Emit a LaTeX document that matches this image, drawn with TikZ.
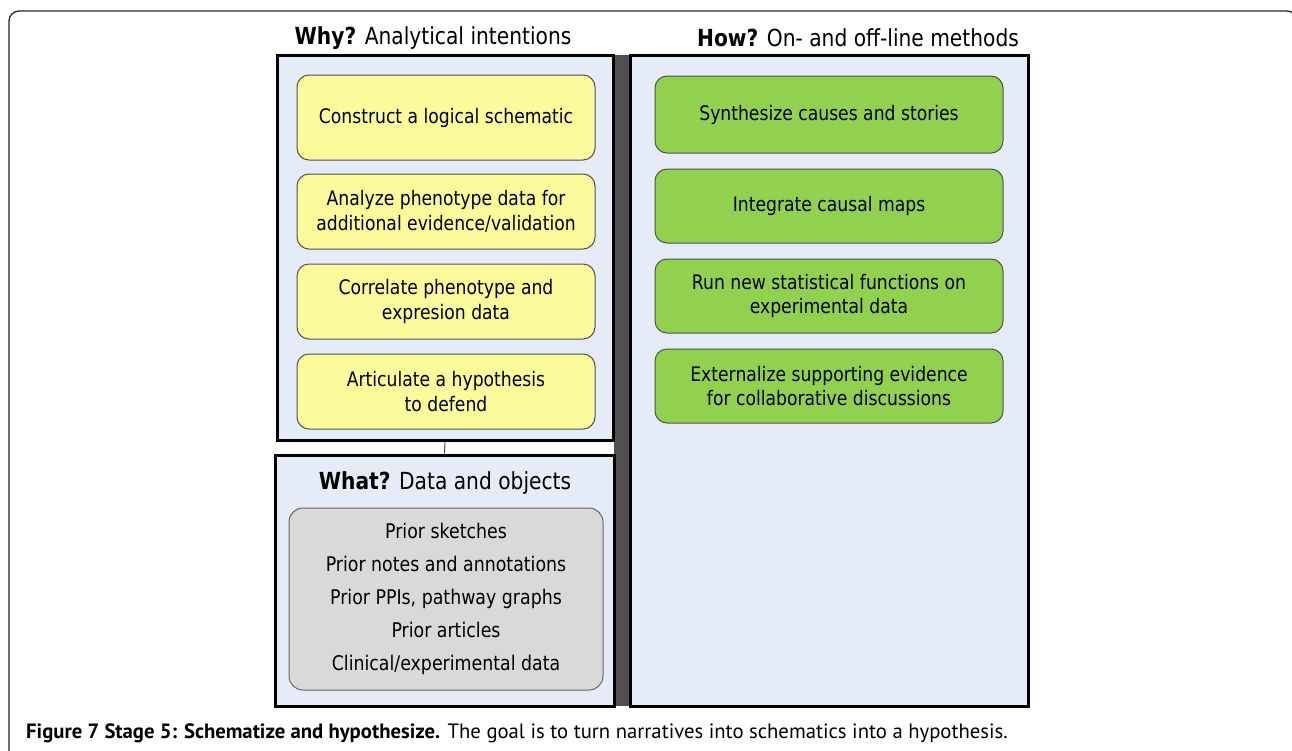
\documentclass[tikz,border=0pt]{standalone}
\usepackage{fontspec}
\setmainfont{DejaVu Sans}[FakeStretch=0.86]
\newfontfamily\capfont{PT Sans}
\usetikzlibrary{positioning}

\definecolor{panelblue}{HTML}{E6ECF7}
\definecolor{ideayellow}{HTML}{FCFB9C}
\definecolor{methgreen}{HTML}{92D050}
\definecolor{datagray}{HTML}{D9D9D9}
\definecolor{bargray}{HTML}{505050}
\definecolor{edgegray}{HTML}{505050}
\newcommand{\boxfont}{\fontsize{20}{24.5}\selectfont}

\begin{document}
\begin{tikzpicture}[x=1pt, y=-1pt,
    panel/.style={draw=black, line width=3pt, fill=panelblue, inner sep=0pt},
    headtext/.style={font=\fontsize{23.5}{28}\selectfont, inner sep=0pt},
    yellowbox/.style={draw=edgegray, line width=1pt, rounded corners=12pt, fill=ideayellow, minimum width=298pt, minimum height=75pt, align=center, font=\boxfont},
    greenbox/.style={draw=edgegray, line width=1pt, rounded corners=12pt, fill=methgreen, minimum width=348pt, minimum height=74pt, align=center, font=\boxfont},
    databox/.style={draw=gray!80!black, line width=1pt, rounded corners=14pt, fill=datagray, minimum width=314pt, minimum height=182pt, align=center, font=\fontsize{20.2}{33}\selectfont}]

    \useasboundingbox (0,0) rectangle (1292,750);
    \clip (0,0) rectangle (1292,750);

    % Frame round the figure
    \draw[line width=1.3pt, black!85, rounded corners=10pt] (9,760) -- (9,11) -- (1297,11) -- (1297,760);

    % Panels
    \node[fill=bargray, minimum width=16pt, minimum height=651pt, inner sep=0pt] (bar) at (622,380.5) {};
    \node[panel, minimum width=336pt, minimum height=385pt] (why) at (445,247.5) {};
    \node[panel, minimum width=339pt, minimum height=251pt] (what) at (444.5,580.5) {};
    \node[panel, minimum width=398pt, minimum height=651pt] (how) at (829,380.5) {};
    \draw[edgegray, line width=1pt] (why.south) -- (what.north);

    % Headings
    \node[headtext] (whytitle) at (433,38) {\textbf{Why?} Analytical intentions};
    \node[headtext] (howtitle) at (858,38) {\textbf{How?} On- and off-line methods};
    \node[headtext] (whattitle) at (445,483) {\textbf{What?} Data and objects};

    % Intentions
    \node[yellowbox, minimum height=85pt] (y1) at (446,117.5) {Construct a logical schematic};
    \node[yellowbox, below=13pt of y1] (y2) {Analyze phenotype data for\\additional evidence/validation};
    \node[yellowbox, below=14pt of y2] (y3) {Correlate phenotype and\\expresion data};
    \node[yellowbox, below=14pt of y3] (y4) {Articulate a hypothesis\\to defend};

    % Methods
    \node[greenbox, minimum height=77pt] (g1) at (829,114.5) {Synthesize causes and stories};
    \node[greenbox, below=15pt of g1] (g2) {Integrate causal maps};
    \node[greenbox, below=15pt of g2] (g3) {Run new statistical functions on\\experimental data};
    \node[greenbox, below=15pt of g3] (g4) {Externalize supporting evidence\\for collaborative discussions};

    % Data and objects
    \node[databox] (data) at (446,599) {Prior sketches\\Prior notes and annotations\\Prior PPIs, pathway graphs\\Prior articles\\Clinical/experimental data};

    % Caption
    \node[anchor=west, inner sep=0pt, font=\capfont\fontsize{20.7}{25}\selectfont] (caption) at (26,733) {\textbf{Figure 7 Stage 5: Schematize and hypothesize.} The goal is to turn narratives into schematics into a hypothesis.};

\end{tikzpicture}
\end{document}
